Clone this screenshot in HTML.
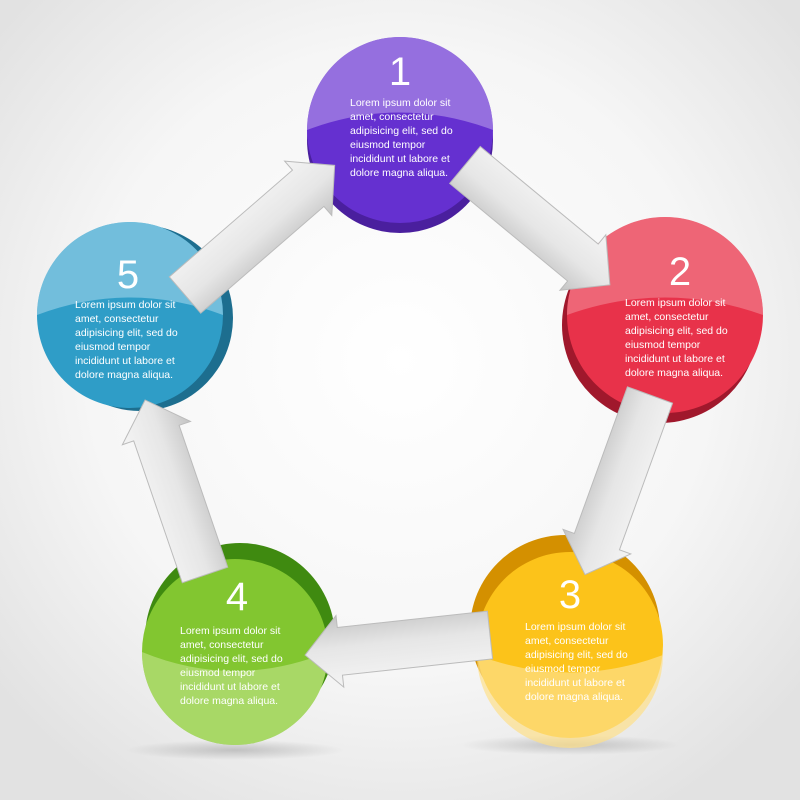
<!DOCTYPE html>
<html><head><meta charset="utf-8"><style>
html,body{margin:0;padding:0;width:800px;height:800px;overflow:hidden}
svg{display:block}
text{font-family:"Liberation Sans","DejaVu Sans",sans-serif;fill:#fff}
.t{font-size:10.5px}
.n{font-size:40px}
</style></head><body>
<svg width="800" height="800" viewBox="0 0 800 800" xmlns="http://www.w3.org/2000/svg">
<defs>
<radialGradient id="bg" cx="50%" cy="45%" r="65%">
<stop offset="0" stop-color="#ffffff"/><stop offset="0.6" stop-color="#f6f6f6"/><stop offset="1" stop-color="#e2e2e2"/>
</radialGradient>
<linearGradient id="ar" x1="0" y1="0" x2="0" y2="1">
<stop offset="0" stop-color="#f4f4f4"/><stop offset="0.55" stop-color="#e6e6e6"/><stop offset="1" stop-color="#c4c4c4"/>
</linearGradient>
<radialGradient id="sh"><stop offset="0" stop-color="#000" stop-opacity="0.18"/><stop offset="1" stop-color="#000" stop-opacity="0"/></radialGradient>
</defs>
<rect width="800" height="800" fill="url(#bg)"/>
<ellipse cx="235" cy="750" rx="110" ry="10" fill="url(#sh)"/>
<ellipse cx="570" cy="745" rx="110" ry="10" fill="url(#sh)"/>

<g>
<circle cx="400" cy="140" r="93" fill="#4a1f9e"/>
<circle cx="400" cy="130" r="93" fill="#6530d0"/>
<path d="M307,130 A93,93 0 0 1 493,130 Q400,95 307,130Z" fill="#a98ae6" opacity="0.7"/>
</g>
<g>
<circle cx="660" cy="325" r="98" fill="#a0182c"/>
<circle cx="665" cy="315" r="98" fill="#e8324a"/>
<path d="M567,315 A98,98 0 0 1 763,315 Q665,280 567,315Z" fill="#f7a3ae" opacity="0.45"/>
</g>
<g>
<circle cx="565" cy="630" r="95" fill="#d49000"/>
<circle cx="570" cy="645" r="93" fill="#fcc31a"/>
<path d="M477,655 A93,93 0 0 0 663,655 Q570,690 477,655Z" fill="#fde08a" opacity="0.7"/>
</g>
<g>
<circle cx="240" cy="638" r="95" fill="#3f8a10"/>
<circle cx="235" cy="652" r="93" fill="#82c630"/>
<path d="M142,652 A93,93 0 0 0 328,652 Q235,690 142,652Z" fill="#b8e07e" opacity="0.7"/>
</g>
<g>
<circle cx="140" cy="318" r="93" fill="#1d6e8f"/>
<circle cx="130" cy="315" r="93" fill="#2f9dc7"/>
<path d="M37,315 A93,93 0 0 1 223,315 Q130,280 37,315Z" fill="#a9d9ec" opacity="0.55"/>
</g>

<g fill="url(#ar)" stroke="#bbbbbb" stroke-width="1">
<polygon transform="translate(465,165) rotate(39.6)" points="0,-24 153,-24 153,-36 188,0 153,36 153,24 0,24"/>
<polygon transform="translate(650,395) rotate(109.9)" points="0,-24 156,-24 156,-36 191,0 156,36 156,24 0,24"/>
<polygon transform="translate(490,635) rotate(173.8)" points="0,-24 151,-24 151,-36 186,0 151,36 151,24 0,24"/>
<polygon transform="translate(205,575) rotate(251.1)" points="0,-24 150,-24 150,-36 185,0 150,36 150,24 0,24"/>
<polygon transform="translate(185,295) rotate(-40.9)" points="0,-24 163,-24 163,-36 198,0 163,36 163,24 0,24"/>
</g>

<text class="n" x="400" y="85" text-anchor="middle">1</text>
<text class="t" x="350" y="106"><tspan x="350">Lorem ipsum dolor sit</tspan><tspan x="350" dy="14">amet, consectetur</tspan><tspan x="350" dy="14">adipisicing elit, sed do</tspan><tspan x="350" dy="14">eiusmod tempor</tspan><tspan x="350" dy="14">incididunt ut labore et</tspan><tspan x="350" dy="14">dolore magna aliqua.</tspan></text>

<text class="n" x="680" y="285" text-anchor="middle">2</text>
<text class="t" x="625" y="306"><tspan x="625">Lorem ipsum dolor sit</tspan><tspan x="625" dy="14">amet, consectetur</tspan><tspan x="625" dy="14">adipisicing elit, sed do</tspan><tspan x="625" dy="14">eiusmod tempor</tspan><tspan x="625" dy="14">incididunt ut labore et</tspan><tspan x="625" dy="14">dolore magna aliqua.</tspan></text>

<text class="n" x="570" y="608" text-anchor="middle">3</text>
<text class="t" x="525" y="630"><tspan x="525">Lorem ipsum dolor sit</tspan><tspan x="525" dy="14">amet, consectetur</tspan><tspan x="525" dy="14">adipisicing elit, sed do</tspan><tspan x="525" dy="14">eiusmod tempor</tspan><tspan x="525" dy="14">incididunt ut labore et</tspan><tspan x="525" dy="14">dolore magna aliqua.</tspan></text>

<text class="n" x="237" y="610" text-anchor="middle">4</text>
<text class="t" x="180" y="634"><tspan x="180">Lorem ipsum dolor sit</tspan><tspan x="180" dy="14">amet, consectetur</tspan><tspan x="180" dy="14">adipisicing elit, sed do</tspan><tspan x="180" dy="14">eiusmod tempor</tspan><tspan x="180" dy="14">incididunt ut labore et</tspan><tspan x="180" dy="14">dolore magna aliqua.</tspan></text>

<text class="n" x="128" y="288" text-anchor="middle">5</text>
<text class="t" x="75" y="308"><tspan x="75">Lorem ipsum dolor sit</tspan><tspan x="75" dy="14">amet, consectetur</tspan><tspan x="75" dy="14">adipisicing elit, sed do</tspan><tspan x="75" dy="14">eiusmod tempor</tspan><tspan x="75" dy="14">incididunt ut labore et</tspan><tspan x="75" dy="14">dolore magna aliqua.</tspan></text>
</svg>
</body></html>
